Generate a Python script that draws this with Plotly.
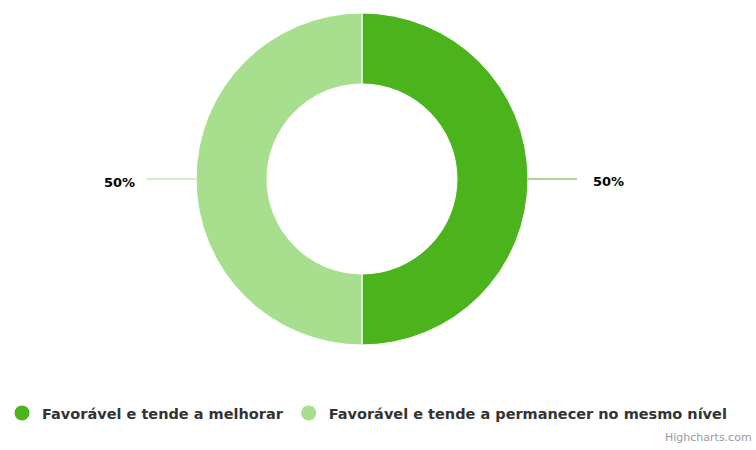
import math
import plotly.graph_objects as go

# data
labels = ["Favorável e tende a melhorar", "Favorável e tende a permanecer no mesmo nível"]
values = [50, 50]
colors = ["#4bb31b", "#a8df8e"]

W, H = 756, 450
cx, cy = 362, 179      # donut centre, px
r_out, r_in = 166, 95  # radii, px

def px(x):
    return x / W

def py(y):
    return 1 - y / H

fig = go.Figure()
fig.add_trace(go.Pie(
    labels=labels,
    values=values,
    marker=dict(colors=colors, line=dict(color="white", width=1)),
    hole=r_in / r_out,
    sort=False,
    direction="clockwise",
    rotation=0,
    textinfo="none",
    hoverinfo="label+percent",
    showlegend=False,
    domain=dict(x=[px(cx - r_out), px(cx + r_out)], y=[py(cy + r_out), py(cy - r_out)]),
))

# legend entries with round markers
for lab, col in zip(labels, colors):
    fig.add_trace(go.Scatter(
        x=[None], y=[None], mode="markers", name=lab,
        marker=dict(color=col, size=15, symbol="circle"),
    ))

# outside data labels with connectors, placed from the slice mid-angles
total = sum(values)
start = 0.0
shapes = []
annotations = []
for v, col in zip(values, colors):
    mid = start + v / total / 2
    start += v / total
    ang = math.pi / 2 - mid * 2 * math.pi   # clockwise from 12 o'clock
    ca, sa = math.cos(ang), math.sin(ang)
    x0, y0 = cx + r_out * ca, cy - r_out * sa
    x1, y1 = cx + (r_out + 49) * ca, cy - (r_out + 49) * sa
    shapes.append(dict(type="line", xref="paper", yref="paper",
                       x0=px(x0), y0=py(y0), x1=px(x1), y1=py(y1),
                       line=dict(color=col, width=1)))
    right = ca >= 0
    annotations.append(dict(
        xref="paper", yref="paper",
        x=px(x1 + (14 if right else -10)), y=py(y1 + 3),
        xanchor="left" if right else "right", yanchor="middle",
        text="<b>%d%%</b>" % round(v / total * 100),
        showarrow=False,
        font=dict(family="DejaVu Sans", size=13, color="#000000"),
    ))

annotations.append(dict(
    xref="paper", yref="paper", x=px(754), y=py(446),
    xanchor="right", yanchor="bottom", text="Highcharts.com", showarrow=False,
    font=dict(family="DejaVu Sans", size=11, color="#999999"),
))

fig.update_layout(
    width=W, height=H,
    margin=dict(l=0, r=0, t=0, b=0),
    paper_bgcolor="white",
    plot_bgcolor="white",
    xaxis=dict(visible=False),
    yaxis=dict(visible=False),
    shapes=shapes,
    annotations=annotations,
    showlegend=True,
    legend=dict(
        orientation="h", x=px(367), xanchor="center", y=py(413), yanchor="middle",
        font=dict(family="DejaVu Sans", size=14.5, color="#333333", weight="bold"),
        itemclick=False, itemdoubleclick=False,
    ),
)

fig.write_html("out.html", config={"displayModeBar": False},
               post_script="document.body.style.margin='0px';")
